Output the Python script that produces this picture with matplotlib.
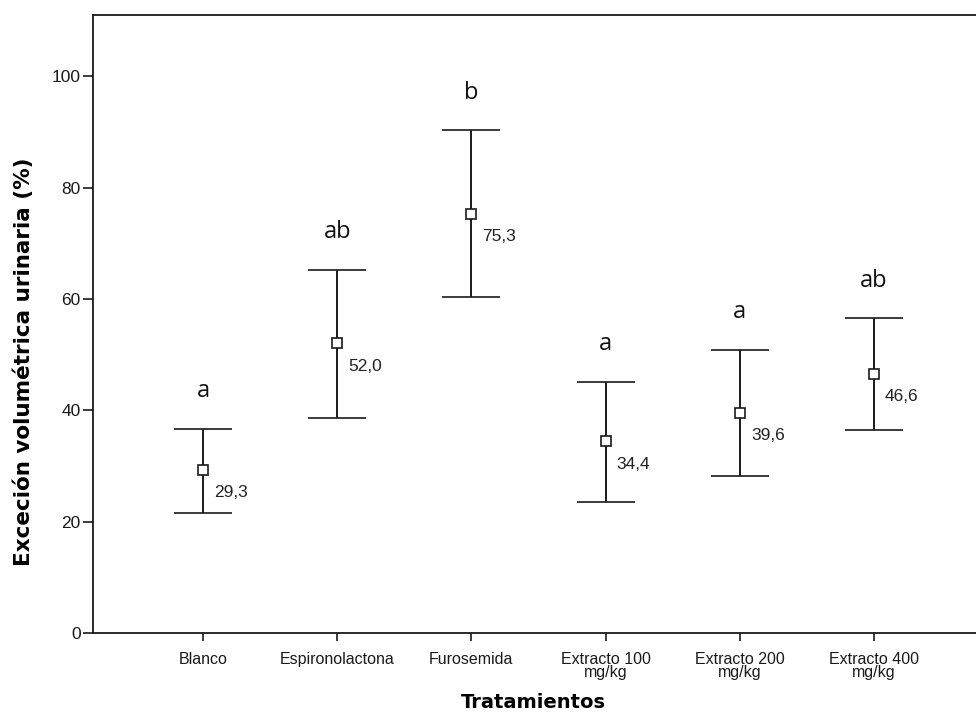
import matplotlib.pyplot as plt

# datos
tratamientos = ['Blanco', 'Espironolactona', 'Furosemida',
                'Extracto 100\nmg/kg', 'Extracto 200\nmg/kg', 'Extracto 400\nmg/kg']
media = [29.3, 52.0, 75.3, 34.4, 39.6, 46.6]
limite_sup = [36.7, 65.2, 90.3, 45.1, 50.9, 56.5]
limite_inf = [21.6, 38.7, 60.3, 23.6, 28.2, 36.5]
letras = ['a', 'ab', 'b', 'a', 'a', 'ab']

fig = plt.figure(figsize=(9.76, 7.22), dpi=100)
ax = fig.add_axes([0.0953, 0.1233, 1.0 - 0.0953, 0.9792 - 0.1233])

x = list(range(len(tratamientos)))
err_inf = [m - l for m, l in zip(media, limite_inf)]
err_sup = [u - m for m, u in zip(media, limite_sup)]

ax.errorbar(x, media, yerr=[err_inf, err_sup], fmt='s', color='#1a1a1a',
            ecolor='#1a1a1a', elinewidth=1.4, capsize=21, capthick=1.4,
            markersize=6.5, markerfacecolor='white', markeredgecolor='#1a1a1a',
            markeredgewidth=1.2)

for xi, m, u, let in zip(x, media, limite_sup, letras):
    # valor medio con coma decimal
    ax.annotate(f'{m:.1f}'.replace('.', ','), (xi, m), xytext=(8, -16.5),
                textcoords='offset points', ha='left', va='center',
                fontsize=12.5, family='Liberation Sans', color='#222222')
    # letras de significancia
    ax.annotate(let, (xi, u), xytext=(0, 27), textcoords='offset points',
                ha='center', va='center', fontsize=17, family='Open Sans',
                color='#111111')

ax.set_xlim(-0.82, 5.76)
ax.set_ylim(0, 111)
ax.set_yticks([0, 20, 40, 60, 80, 100])
ax.set_xticks(x)
ax.set_xticklabels(tratamientos, fontsize=11.5, family='Liberation Sans',
                   linespacing=0.8)
for lab in ax.get_yticklabels():
    lab.set_fontsize(12.5)
    lab.set_family('Liberation Sans')

ax.spines['right'].set_visible(False)
for s in ['left', 'bottom', 'top']:
    ax.spines[s].set_linewidth(1.3)
    ax.spines[s].set_color('#1a1a1a')
ax.tick_params(axis='y', length=7, width=1.2, pad=2, colors='#1a1a1a')
ax.tick_params(axis='x', length=6, width=1.2, pad=8, colors='#1a1a1a')

ax.set_xlabel('Tratamientos', fontsize=14, fontweight='bold', va='center')
ax.xaxis.set_label_coords((533 - 93) / 883, (633 - 703) / 618)
ax.set_ylabel('Exceción volumétrica urinaria (%)', fontsize=15.5,
              fontweight='bold')
ax.yaxis.set_label_coords((34 - 93) / 883, (633 - 362) / 618)

fig.savefig('out.png', dpi=100)
